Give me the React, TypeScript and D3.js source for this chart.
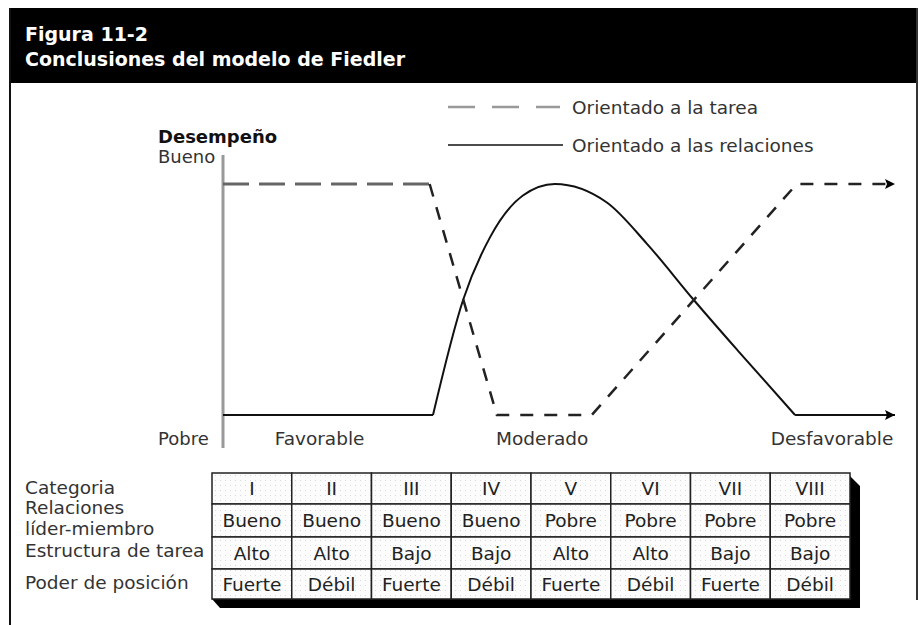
import React, { useEffect, useRef } from "react";
import * as d3 from "d3";

// Fiedler model: performance (0 = Pobre, 1 = Bueno) against situation favourability (0..8)
const taskFlat: [number, number][] = [[0, 1], [2.46, 1]];
const taskRest: [number, number][] = [[2.46, 1], [3.26, 0], [4.39, 0], [6.83, 1], [8, 1]];
const relFlatLeft: [number, number][] = [[0, 0], [2.5, 0]];
const relCurve: [number, number][] = [
  [2.5, 0], [2.86, 0.5], [3.18, 0.77], [3.57, 0.95], [3.95, 1], [4.57, 0.92],
  [5.05, 0.74], [5.6, 0.5], [6.15, 0.27], [6.81, 0],
];
const relFlatRight: [number, number][] = [[6.81, 0], [8, 0]];

const zoneLabels = ["Favorable", "Moderado", "Desfavorable"];
const zonePos = [1.15, 3.8, 7.25];

const categories = ["I", "II", "III", "IV", "V", "VI", "VII", "VIII"];
const leaderMember = ["Bueno", "Bueno", "Bueno", "Bueno", "Pobre", "Pobre", "Pobre", "Pobre"];
const taskStructure = ["Alto", "Alto", "Bajo", "Bajo", "Alto", "Alto", "Bajo", "Bajo"];
const positionPower = ["Fuerte", "Débil", "Fuerte", "Débil", "Fuerte", "Débil", "Fuerte", "Débil"];
const legendLabels = ["Orientado a la tarea", "Orientado a las relaciones"];

const FONT = "'DejaVu Sans', sans-serif";
const FS = 18.5;

const App = () => {
  const ref = useRef<SVGSVGElement>(null);

  useEffect(() => {
    const svg = d3.select(ref.current);
    svg.selectAll("*").remove();

    const defs = svg.append("defs");
    defs.append("marker").attr("id", "arrow").attr("viewBox", "0 0 10 10")
      .attr("refX", 10).attr("refY", 5).attr("markerWidth", 16).attr("markerHeight", 10)
      .attr("markerUnits", "userSpaceOnUse").attr("orient", "auto")
      .append("path").attr("d", "M0,0L10,5L0,10L2,5Z").attr("fill", "#000");
    // halftone texture of the table cells
    const pat = defs.append("pattern").attr("id", "dots").attr("width", 5).attr("height", 5)
      .attr("patternUnits", "userSpaceOnUse");
    pat.append("rect").attr("width", 5).attr("height", 5).attr("fill", "#fcfcfc");
    pat.append("rect").attr("width", 1).attr("height", 1).attr("fill", "#dadada");

    // frame and black header
    svg.append("rect").attr("x", 10).attr("y", 8).attr("width", 907).attr("height", 75).attr("fill", "#000");
    svg.append("line").attr("x1", 10).attr("x2", 10).attr("y1", 8).attr("y2", 625).attr("stroke", "#111").attr("stroke-width", 2);
    svg.append("line").attr("x1", 917).attr("x2", 917).attr("y1", 8).attr("y2", 600).attr("stroke", "#333").attr("stroke-width", 2);
    svg.append("text").attr("x", 25).attr("y", 41).text("Figura 11-2")
      .attr("fill", "#fff").attr("font-family", FONT).attr("font-weight", "bold").attr("font-size", 19);
    svg.append("text").attr("x", 25).attr("y", 66).text("Conclusiones del modelo de Fiedler")
      .attr("fill", "#fff").attr("font-family", FONT).attr("font-weight", "bold").attr("font-size", 19);

    const x = d3.scaleLinear().domain([0, 8]).range([223, 895]);
    const y = d3.scaleLinear().domain([0, 1]).range([415, 184]);

    // legend
    const legend = svg.append("g").attr("font-family", FONT).attr("font-size", FS).attr("fill", "#333");
    legend.append("line").attr("x1", 448).attr("x2", 560).attr("y1", 107).attr("y2", 107)
      .attr("stroke", "#999").attr("stroke-width", 2.5).attr("stroke-dasharray", "27,17");
    legend.append("line").attr("x1", 448).attr("x2", 563).attr("y1", 145).attr("y2", 145)
      .attr("stroke", "#111").attr("stroke-width", 1.5);
    legend.selectAll("text").data(legendLabels).enter().append("text")
      .attr("x", 572).attr("y", (d, i) => 114 + i * 38).text((d) => d);

    // axis
    svg.append("line").attr("x1", 223).attr("x2", 223).attr("y1", 155).attr("y2", 448)
      .attr("stroke", "#999").attr("stroke-width", 3);
    svg.append("text").attr("x", 158).attr("y", 143).text("Desempeño")
      .attr("font-family", FONT).attr("font-weight", "bold").attr("font-size", 18).attr("fill", "#111");
    svg.append("text").attr("x", 158).attr("y", 163).text("Bueno")
      .attr("font-family", FONT).attr("font-size", 18).attr("fill", "#333");
    svg.append("text").attr("x", 158).attr("y", 445).text("Pobre")
      .attr("font-family", FONT).attr("font-size", 18).attr("fill", "#333");

    svg.selectAll(".zone").data(zoneLabels).enter().append("text").attr("class", "zone")
      .attr("x", (d, i) => x(zonePos[i])).attr("y", 445).attr("text-anchor", "middle")
      .attr("font-family", FONT).attr("font-size", FS).attr("fill", "#333").text((d) => d);

    const line = d3.line<[number, number]>().x((d) => x(d[0])).y((d) => y(d[1]));
    const curve = d3.line<[number, number]>().x((d) => x(d[0])).y((d) => y(d[1])).curve(d3.curveMonotoneX);

    // relations-oriented (solid)
    svg.append("path").attr("d", line(relFlatLeft)).attr("fill", "none").attr("stroke", "#111").attr("stroke-width", 2);
    svg.append("path").attr("d", curve(relCurve)).attr("fill", "none").attr("stroke", "#111").attr("stroke-width", 2);
    svg.append("path").attr("d", line(relFlatRight)).attr("fill", "none").attr("stroke", "#111").attr("stroke-width", 2)
      .attr("marker-end", "url(#arrow)");

    // task-oriented (dashed)
    svg.append("path").attr("d", line(taskFlat)).attr("fill", "none").attr("stroke", "#666")
      .attr("stroke-width", 3).attr("stroke-dasharray", "26,10");
    svg.append("path").attr("d", line(taskRest)).attr("fill", "none").attr("stroke", "#222")
      .attr("stroke-width", 2.5).attr("stroke-dasharray", "13,11").attr("marker-end", "url(#arrow)");

    // table
    const rows = [categories, leaderMember, taskStructure, positionPower];
    const rowH = [31, 33, 32, 30];
    const rowY = [473, 504, 537, 569];
    const col = d3.scaleBand().domain(categories).range([212, 850]);

    svg.append("path").attr("d", "M850,476L860,486L860,608L220,608L212,599L850,599Z").attr("fill", "#000");
    const table = svg.append("g").attr("font-family", FONT).attr("font-size", FS).attr("fill", "#222");
    rows.forEach((row, r) => {
      table.selectAll(`.c${r}`).data(row).enter().append("rect").attr("class", `c${r}`)
        .attr("x", (d, i) => col(categories[i])!).attr("y", rowY[r])
        .attr("width", col.bandwidth()).attr("height", rowH[r])
        .attr("fill", "url(#dots)").attr("stroke", "#222").attr("stroke-width", 1.5);
      table.selectAll(`.t${r}`).data(row).enter().append("text").attr("class", `t${r}`)
        .attr("x", (d, i) => col(categories[i])! + col.bandwidth() / 2)
        .attr("y", rowY[r] + rowH[r] / 2 + 6.5).attr("text-anchor", "middle").text((d) => d);
    });

    const rowLabels = [
      { t: "Categoria", y: 494 }, { t: "Relaciones", y: 514 }, { t: "líder-miembro", y: 535 },
      { t: "Estructura de tarea", y: 557 }, { t: "Poder de posición", y: 589 },
    ];
    svg.selectAll(".rl").data(rowLabels).enter().append("text").attr("class", "rl")
      .attr("x", 25).attr("y", (d) => d.y).text((d) => d.t)
      .attr("font-family", FONT).attr("font-size", FS).attr("fill", "#333");
  }, []);

  return (
    <svg ref={ref} width={924} height={625}
      style={{ position: "absolute", left: 0, top: 0, background: "#fff" }} />
  );
};

export default App;
